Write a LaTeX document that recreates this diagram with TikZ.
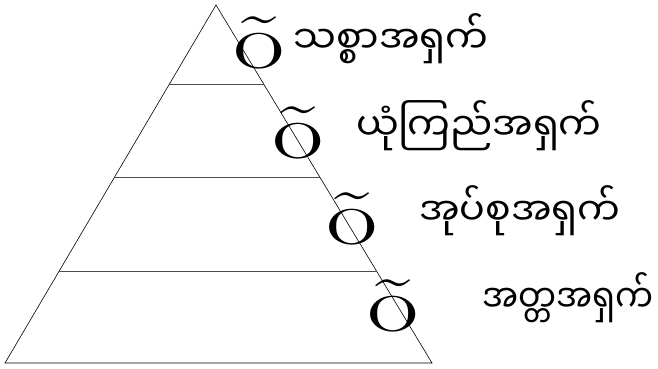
\documentclass[tikz,border=0pt]{standalone}
\usepackage{fontspec}
\newfontfamily\myanmarfont[Script=Myanmar]{Noto Sans Myanmar UI}
\usetikzlibrary{calc}

\begin{document}
\begin{tikzpicture}[
    x=1pt, y=-1pt,
    tierline/.style={draw=gray!60!black, line width=0.9pt},
    tiermark/.style={inner sep=0pt, anchor=base, xscale=1.4, font=\fontsize{80}{80}\selectfont},
    tierlabel/.style={inner sep=0pt, anchor=base west, font=\myanmarfont\fontsize{38}{38}\selectfont}
]
  \useasboundingbox (0,0) rectangle (658,369);

  % -------------------------------------------------------------
  % PYRAMID
  % -------------------------------------------------------------
  \coordinate (apex) at (216,5);
  \coordinate (baseL) at (5,363);
  \coordinate (baseR) at (432,363);
  \draw[line width=0.6pt] (apex) -- (baseL) -- (baseR) -- cycle;

  % tier dividers
  \foreach \t [count=\i] in {0.2207,0.4804,0.7430} {
    \coordinate (divL\i) at ($(apex)!\t!(baseL)$);
    \coordinate (divR\i) at ($(apex)!\t!(baseR)$);
    \draw[tierline] (divL\i) -- (divR\i);
  }

  % -------------------------------------------------------------
  % LABELS
  % -------------------------------------------------------------
  \node[tiermark] (m1) at (259,69) {õ};
  \node[tierlabel] (t1) at (293,53) {သစ္စာအရှက်};

  \node[tiermark] (m2) at (298,158) {õ};
  \node[tierlabel] (t2) at (356,140) {ယုံကြည်အရှက်};

  \node[tiermark] (m3) at (352,244) {õ};
  \node[tierlabel] (t3) at (419,225) {အုပ်စုအရှက်};

  \node[tiermark] (m4) at (393,331) {õ};
  \node[tierlabel, xscale=0.89] (t4) at (482,312) {အတ္တအရှက်};

\end{tikzpicture}
\end{document}
